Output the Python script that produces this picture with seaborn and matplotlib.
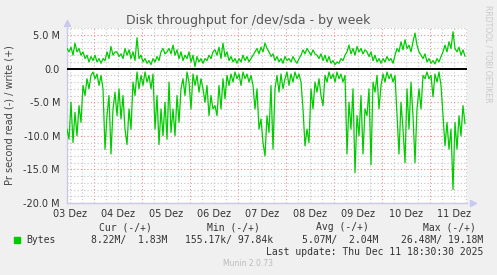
import matplotlib
matplotlib.use("Agg")
import matplotlib.pyplot as plt
import matplotlib.dates as mdates
from matplotlib.ticker import MultipleLocator, FuncFormatter, NullFormatter
from matplotlib.patches import Rectangle
import seaborn as sns
import numpy as np
import pandas as pd

# ---------------- data (values in M bytes/s) ----------------
start_time = "2025-12-03 10:30"
read_mb = [
    9, 10.5, 5, 11, 6.5, 10, 5.5, 8, 2.5, 4, 1.5, 3, 1, 0.5, 1.5, 0.8, 2.5, 1, 3, 12, 7, 4, 12.7, 6, 3.5,
    7, 3, 7.5, 4, 9, 11.3, 6, 9, 2, 4, 0.5, 3, 1, 2.5, 0.5, 2, 1, 3, 0.8, 9, 4, 11.3, 6, 10, 5,
    10.5, 2, 9.5, 6, 10, 4, 8, 3, 1.5, 4, 0.5, 2, 6, 0.8, 2.5, 1, 3.5, 1.5, 3, 5, 2.5, 7, 4, 6, 5.5,
    7, 2.5, 6, 1.5, 4.5, 1, 2.5, 0.8, 2, 0.5, 1.5, 0.8, 2.5, 0.5, 1.5, 0.8, 2, 1, 2.5, 6, 3, 9, 7.5, 11, 13,
    7, 9.5, 2.5, 12, 3, 1, 3.5, 0.8, 3, 1.5, 0.5, 2.5, 0.8, 2, 0.5, 1.5, 0.8, 2, 6, 11.5, 9, 11, 3, 6, 2,
    3.5, 1.5, 4, 5.5, 1, 2, 0.5, 1.5, 0.8, 2, 0.5, 1.5, 0.8, 2, 1, 12.7, 5, 9, 3, 15.5, 7, 10, 4, 12.7, 6,
    7, 3, 14.3, 2, 3.5, 1, 6, 2.5, 0.8, 2, 0.5, 1.5, 0.8, 2, 1, 7, 12.7, 5, 9, 14, 3, 9, 2, 7, 14,
    6, 3, 6, 1, 1.5, 0.5, 1.5, 1, 4.2, 0.8, 2, 0.5, 2.5, 7, 11.5, 8, 12, 9, 18, 8, 12, 7, 10, 5.5, 8.22,
]
write_mb = [
    3, 2.5, 3.2, 2, 3.8, 2.5, 3, 2, 2.5, 1.5, 2, 1, 1.8, 1.2, 2, 1, 1.5, 0.8, 1.5, 1.2, 2.5, 1.5, 3.3, 2, 2.5,
    2.5, 1.8, 2.2, 1.5, 3, 2, 2.8, 1.5, 2.5, 1.2, 4.6, 1.5, 2, 1, 1.5, 0.8, 1.2, 0.6, 1.5, 1, 1.8, 1.2, 2.5, 3, 2.2,
    2.5, 3, 2.2, 3.5, 2, 2.8, 1.5, 2.5, 1.2, 2, 1.5, 2.5, 1, 2, 0.3, 1.8, 1, 1.5, 0.8, 1.5, 1.2, 2, 1.5, 2.5, 2.8,
    2, 3.2, 1.5, 3.8, 1.8, 2.5, 1.2, 1.8, 1, 1.5, 0.8, 1.5, 1, 2, 1.2, 1.8, 1, 1.5, 2, 2.5, 3, 2.2, 3.2, 2.5, 3.8,
    3, 2.5, 1.8, 2.2, 1.2, 1.8, 1, 1.5, 0.8, 1.8, 1.2, 1.5, 1, 1.8, 1.2, 0.8, 1.5, 2, 2.8, 2.2, 3, 2.5, 2, 2.8, 2.2,
    2, 1.5, 2.2, 1.2, 2, 1, 1.8, 0.8, 1.2, 0.6, 1, 0.8, 1.5, 1.2, 2, 2.5, 3.5, 2.2, 3, 2, 3.3, 2.5, 3, 2.2, 2.8,
    2.5, 1.8, 2.5, 1.2, 2, 1, 1.5, 0.8, 1.5, 1, 1.8, 1.2, 1.5, 0.8, 2, 3, 2.5, 4, 2.8, 4.3, 3, 3.5, 2.5, 4, 5.3,
    3.5, 2.5, 2, 1.5, 2.2, 1, 1.5, 0.8, 1.2, 0.7, 1.5, 1, 1.8, 2.5, 3.5, 2.5, 4, 3, 5.5, 3, 2.5, 3.2, 2, 2.8, 1.83,
]
day_labels = ["03 Dez", "04 Dez", "05 Dez", "06 Dez", "07 Dez", "08 Dez", "09 Dez", "10 Dez", "11 Dez"]
legend_headers = ["Cur (-/+)", "Min (-/+)", "Avg (-/+)", "Max (-/+)"]
legend_values = ["8.22M/  1.83M", "155.17k/ 97.84k", "5.07M/  2.04M", "26.48M/ 19.18M"]
series_name = "Bytes"
title = "Disk throughput for /dev/sda - by week"
ylabel = "Pr second read (-) / write (+)"
last_update = "Last update: Thu Dec 11 18:30:30 2025"
footer = "Munin 2.0.73"
side_text = "RRDTOOL / TOBI OETIKER"

times = pd.date_range(start_time, periods=len(read_mb), freq="h")
df = pd.DataFrame({
    "time": times,
    "read": -np.array(read_mb) * 1e6,
    "write": np.array(write_mb) * 1e6,
})

# ---------------- figure ----------------
sns.set_theme(style="white")
plt.rcParams["font.family"] = ["DejaVu Sans"]

W, H = 497, 275
fig = plt.figure(figsize=(W / 100, H / 100), dpi=100, facecolor="#F0F0F0")
ax = fig.add_axes([67 / W, 1 - 203 / H, 400 / W, 175 / H])
ax.set_facecolor("white")

GREEN = "#00CC00"
sns.lineplot(data=df, x="time", y="write", ax=ax, color=GREEN, linewidth=0.9, zorder=4)
sns.lineplot(data=df, x="time", y="read", ax=ax, color=GREEN, linewidth=0.9, zorder=4)
ax.axhline(0, color="black", linewidth=1.4, zorder=5)

t0 = pd.Timestamp(start_time)
t1 = t0 + pd.Timedelta(hours=200)
ax.set_xlim(t0, t1)
ax.set_ylim(-20e6, 6.05e6)

# y ticks / grid
ax.yaxis.set_major_locator(MultipleLocator(5e6))
ax.yaxis.set_minor_locator(MultipleLocator(1e6))
def yfmt(v, p):
    if abs(v) < 1:
        return "0.0"
    return f"{v/1e6:.1f} M"
ax.yaxis.set_major_formatter(FuncFormatter(yfmt))

# x ticks / grid
ax.xaxis.set_major_locator(mdates.DayLocator())
ax.xaxis.set_major_formatter(NullFormatter())
ax.xaxis.set_minor_locator(mdates.HourLocator(byhour=[0, 6, 12, 18]))
label_map = {}
for d, lab in zip(pd.date_range("2025-12-03 12:00", periods=len(day_labels), freq="D"), day_labels):
    label_map[round(mdates.date2num(d), 4)] = lab
def xfmt(v, p):
    return label_map.get(round(v, 4), "")
ax.xaxis.set_minor_formatter(FuncFormatter(xfmt))

ax.grid(which="major", color="#E89090", linestyle=(0, (1, 2)), linewidth=0.8, zorder=1)
ax.grid(which="minor", color="#C4C4C4", linestyle=(0, (1, 2)), linewidth=0.8, zorder=1)
ax.set_axisbelow(True)

ax.tick_params(axis="both", which="both", length=0, labelsize=7, colors="#333333")
ax.tick_params(axis="y", pad=5)
ax.tick_params(axis="x", which="minor", pad=4)
ax.set_xlabel("")
ax.set_ylabel("")

for s in ["top", "right"]:
    ax.spines[s].set_visible(False)
for s in ["left", "bottom"]:
    ax.spines[s].set_color("#C8C8E8")
    ax.spines[s].set_linewidth(1.0)

# axis arrows
ax.plot([0], [1.03], marker="^", markersize=4, color="#C8C8F0", transform=ax.transAxes, clip_on=False)
ax.plot([1.015], [0], marker=">", markersize=4, color="#C8C8F0", transform=ax.transAxes, clip_on=False)

# texts
fig.text(248 / W, 1 - 24 / H, title, ha="center", va="baseline", fontsize=9, color="#555555")
fig.text(10 / W, 1 - 115 / H, ylabel, ha="center", va="center", rotation=90, fontsize=7, color="#444444")
fig.text(488 / W, 1 - 5 / H, side_text, ha="center", va="top", rotation=270, fontsize=5.5, color="#C8C8C8")

mono = "DejaVu Sans Mono"
for cx, txt in zip([125, 233, 342, 449], legend_headers):
    fig.text(cx / W, 1 - 227 / H, txt, ha="center", va="center", fontsize=7, family=mono, color="#333333")
fig.add_artist(Rectangle((14 / W, 1 - 243 / H), 6 / W, 6 / H, transform=fig.transFigure, color=GREEN))
fig.text(26 / W, 1 - 240 / H, series_name, ha="left", va="center", fontsize=7, family=mono, color="#333333")
for rx, txt in zip([167, 273, 378, 483], legend_values):
    fig.text(rx / W, 1 - 240 / H, txt, ha="right", va="center", fontsize=7, family=mono, color="#333333")
fig.text(483 / W, 1 - 252 / H, last_update, ha="right", va="center", fontsize=7, family=mono, color="#333333")
fig.text(248 / W, 1 - 264 / H, footer, ha="center", va="center", fontsize=5.5, color="#BBBBBB")

fig.savefig("out.png", dpi=100, facecolor=fig.get_facecolor())
